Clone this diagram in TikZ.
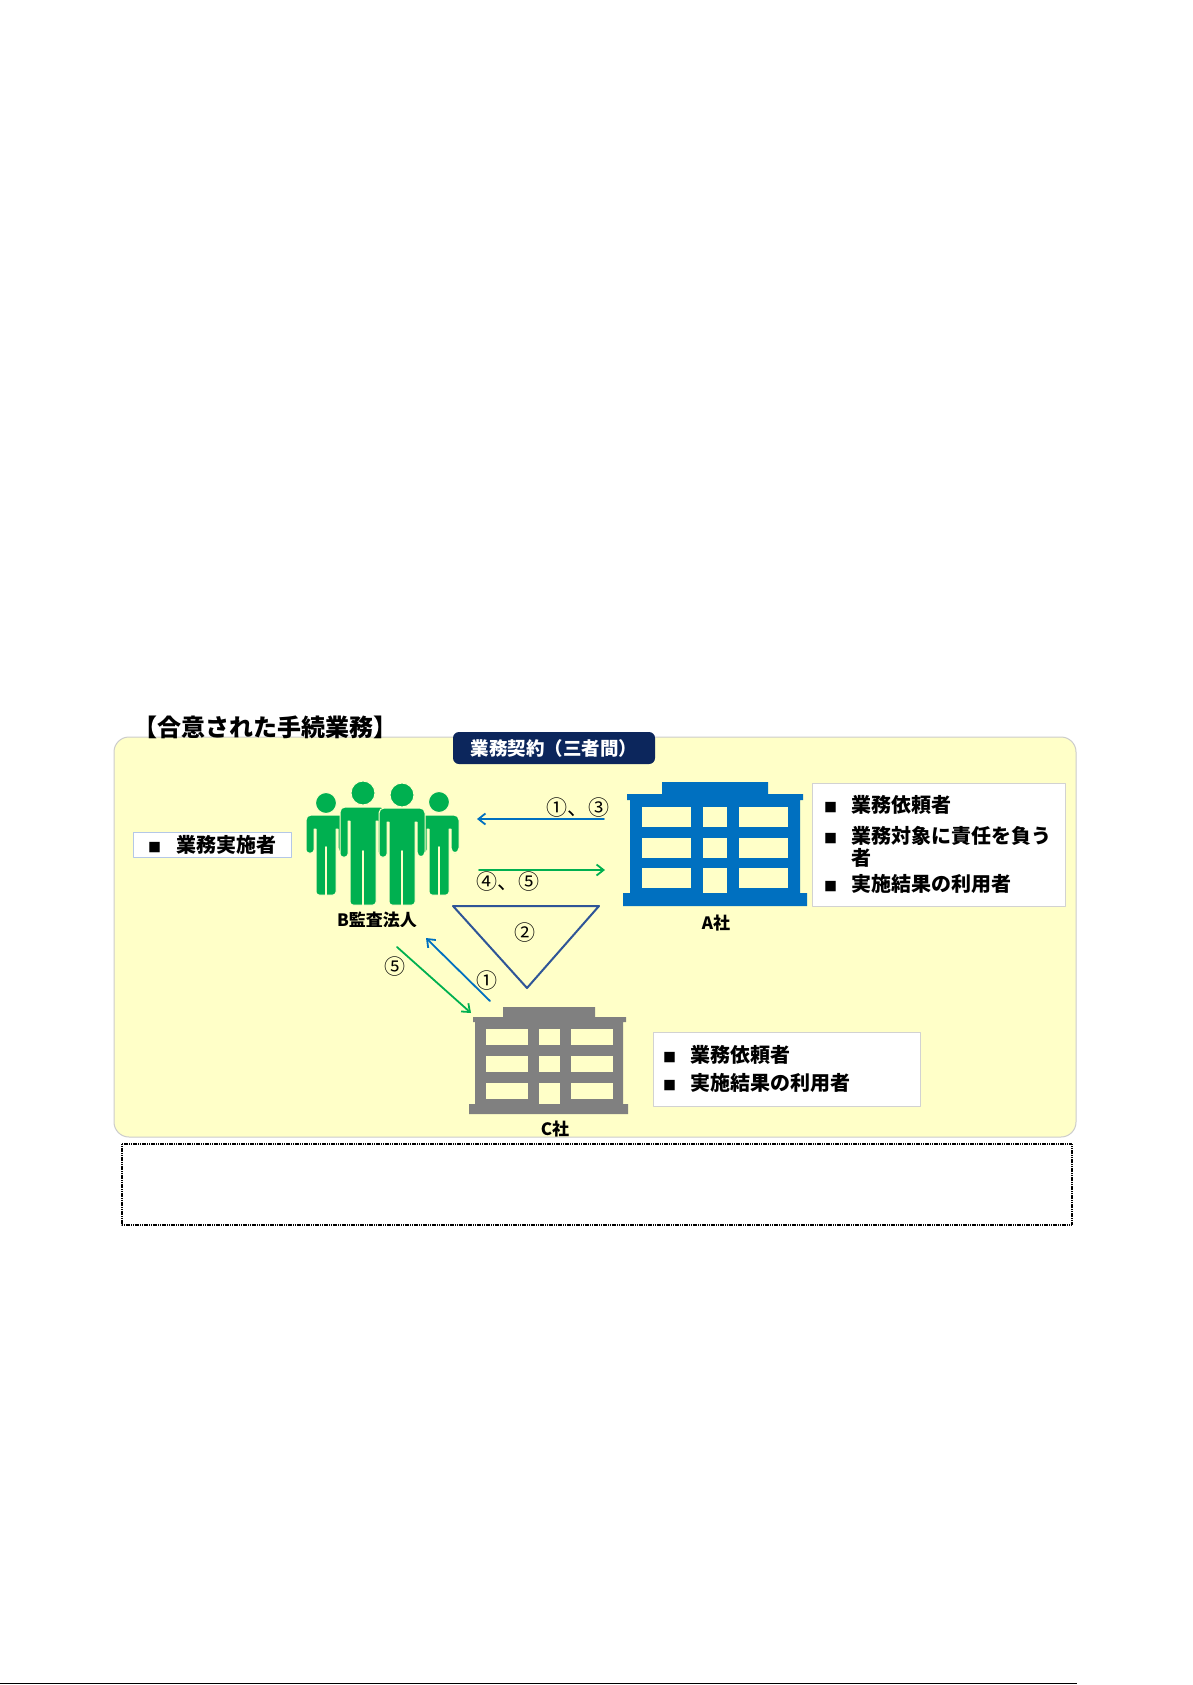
\documentclass[tikz,border=0pt]{standalone}
\usepackage{fontspec}
\setmainfont{Noto Sans CJK JP}
\usetikzlibrary{arrows.meta}
\definecolor{bgyellow}{RGB}{255,255,200}
\definecolor{navy}{RGB}{12,38,92}
\definecolor{pgreen}{RGB}{0,176,80}
\definecolor{ablue}{RGB}{0,112,192}
\definecolor{cgray}{RGB}{128,128,128}
\definecolor{tri}{RGB}{47,85,151}
\definecolor{jobline}{RGB}{180,199,231}
\tikzset{
  item/.style={anchor=west, inner sep=0pt, font=\fontsize{20}{20}\selectfont\bfseries},
  num/.style={inner sep=0pt, font=\fontsize{21}{21}\selectfont},
  lbl/.style={inner sep=0pt, font=\fontsize{17}{17}\selectfont\bfseries},
  wbox/.style={draw=gray!35, fill=white, line width=1pt, inner sep=0pt},
}
\newcommand{\sq}{{\fontsize{13}{13}\selectfont ■}}
\begin{document}
\begin{tikzpicture}[x=1pt,y=-1pt,>={Straight Barb[length=7pt,width=11pt]}, line join=round, line cap=round]
\useasboundingbox[fill=white] (0,0) rectangle (1192,1685);
% frame
\draw[fill=bgyellow, draw=gray!40, line width=1pt, rounded corners=15pt] (114,737) rectangle (1076,1137);
\node[anchor=west, inner sep=0pt, font=\fontsize{24}{24}\selectfont\bfseries] (ttl) at (133,727) {【合意された手続業務】};
\node[fill=navy, rounded corners=6pt, minimum width=202pt, minimum height=32pt, inner sep=0pt,
  text=white, font=\fontsize{18.5}{18.5}\selectfont\bfseries] (ctr) at (554,748) {業務契約（三者間）};
% people
\foreach \cx/\hy/\r/\sy/\hw/\ab/\lb in {326/803/10.5/815/20/853/895, 439/802/10.5/815/20/853/895,
    363/793/12/807/23/857/905, 402/795/12/808/23/857/905}{
  \filldraw[fill=pgreen, draw=bgyellow, line width=1pt] (\cx,\hy) circle (\r);
  \filldraw[fill=pgreen, draw=bgyellow, line width=1pt]
    (\cx-\hw,\ab) [rounded corners=5pt] -- (\cx-\hw,\sy) -- (\cx+\hw,\sy) -- (\cx+\hw,\ab)
    -- (\cx+\hw-8,\ab) [sharp corners] -- (\cx+\hw-8,\sy+14) -- (\cx+\hw-10,\sy+14)
    [rounded corners=3pt] -- (\cx+\hw-10,\lb) -- (\cx-\hw+10,\lb) [sharp corners]
    -- (\cx-\hw+10,\sy+14) -- (\cx-\hw+8,\sy+14) [rounded corners=3pt] -- (\cx-\hw+8,\ab) -- cycle;
  \draw[bgyellow, line width=2pt] (\cx,\ab-6) -- (\cx,\lb+1);
}
\begin{scope}
\clip (300,900) rectangle (470,926);
\node[lbl] (bname) at (377,920) {B監査法人};
\end{scope}
\node[wbox, draw=jobline, minimum width=158pt, minimum height=25pt,
  font=\fontsize{20}{20}\selectfont\bfseries] (bbox) at (212,845) {\sq\hspace{15pt}業務実施者};
% A building
\fill[ablue] (662,782) rectangle (768,795) (627,794) rectangle (803,800)
  (630,800) rectangle (800,893) (623,893) rectangle (807,906);
\foreach \y in {807,838,868}
  \foreach \xa/\xb in {642/691,703/727,739/788}
    \fill[bgyellow] (\xa,\y) rectangle (\xb,\y+20);
\fill[bgyellow] (703,868) rectangle (727,893);
\node[lbl] (aname) at (716,923) {A社};
\node[wbox, minimum width=253pt, minimum height=123pt] (abox) at (938.5,844.5) {};
\node[item] (a1) at (824,805) {\sq\hspace{14pt}業務依頼者};
\node[item] (a2) at (824,836) {\sq\hspace{14pt}業務対象に責任を負う};
\node[item] (a2b) at (851,858) {者};
\node[item] (a3) at (824,884) {\sq\hspace{14pt}実施結果の利用者};
% C building
\fill[cgray] (503,1007) rectangle (595,1017) (473,1017) rectangle (626,1022)
  (475,1022) rectangle (623,1104) (469,1104) rectangle (628,1114);
\foreach \y in {1029,1056,1083}
  \foreach \xa/\xb in {486/528,539/560,571/613}
    \fill[bgyellow] (\xa,\y) rectangle (\xb,\y+16);
\fill[bgyellow] (539,1083) rectangle (560,1104);
\node[lbl] (cname) at (555,1129) {C社};
\node[wbox, minimum width=267pt, minimum height=74pt] (cbox) at (786.5,1069) {};
\node[item] (c1) at (663,1055) {\sq\hspace{14pt}業務依頼者};
\node[item] (c2) at (663,1083) {\sq\hspace{14pt}実施結果の利用者};
% arrows
\coordinate (ba) at (477,819); \coordinate (ab) at (604,819);
\coordinate (bg) at (479,870); \coordinate (ag) at (605,870);
\coordinate (bc) at (426,938); \coordinate (cb) at (490,1001);
\coordinate (bd) at (397,947); \coordinate (cd) at (471,1013);
\draw[->, ablue, line width=1.8pt] (ab) -- (ba);
\draw[->, pgreen, line width=1.8pt] (bg) -- (ag);
\draw[->, ablue, line width=1.8pt] (cb) -- (bc);
\draw[->, pgreen, line width=1.8pt] (bd) -- (cd);
\node[num] (n13) at (578,808) {①、③};
\node[num] (n45) at (508,882) {④、⑤};
\node[num] (n5) at (395,967) {⑤};
\node[num] (n1) at (487,981) {①};
% triangle
\draw[tri, line width=2pt] (453,906) -- (599,906) -- (527,988) -- cycle;
\node[num] (n2) at (525,933) {②};
% note frame
\draw[dash pattern=on 1.2pt off 0.6pt, line width=2.2pt, line cap=butt] (122,1144) rectangle (1072,1225);
\draw[line width=1.3pt, line cap=butt] (0,1683.5) -- (1077,1683.5);
\end{tikzpicture}
\end{document}
